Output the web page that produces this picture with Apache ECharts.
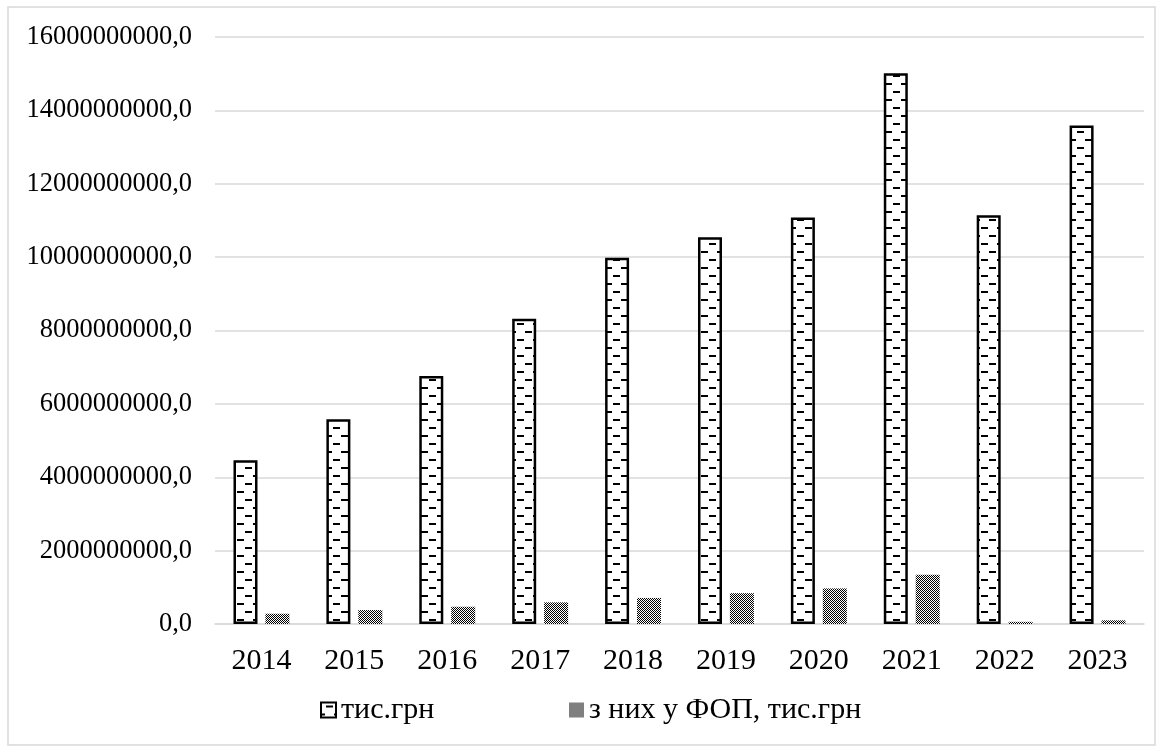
<!DOCTYPE html>
<html>
<head>
<meta charset="utf-8">
<script src="https://cdn.jsdelivr.net/npm/echarts@6/dist/echarts.min.js"></script>
<style>
html,body{margin:0;padding:0;background:#fff;}
#chart{width:1166px;height:756px;}
</style>
</head>
<body>
<div id="chart"></div>
<script>
const categories = ['2014','2015','2016','2017','2018','2019','2020','2021','2022','2023'];
const totalValues = [4460000000, 5580000000, 6760000000, 8320000000, 9980000000, 10540000000, 11080000000, 15010000000, 11140000000, 13590000000];
const fopValues = [280000000, 380000000, 470000000, 590000000, 710000000, 840000000, 970000000, 1340000000, 60000000, 100000000];
const seriesNames = ['тис.грн', 'з них у ФОП, тис.грн'];
const yTicks = {min: 0, max: 16000000000, interval: 2000000000};

function dashTile() {
  const c = document.createElement('canvas');
  c.width = 16; c.height = 16;
  const g = c.getContext('2d');
  g.fillStyle = '#fff'; g.fillRect(0, 0, 16, 16);
  g.fillStyle = '#000';
  g.fillRect(5, 3, 7, 2);
  g.fillRect(13, 11, 3, 2);
  g.fillRect(0, 11, 4, 2);
  return c;
}
function checkTile() {
  const c = document.createElement('canvas');
  c.width = 2; c.height = 2;
  const g = c.getContext('2d');
  g.fillStyle = '#fff'; g.fillRect(0, 0, 2, 2);
  g.fillStyle = '#000';
  g.fillRect(0, 0, 1, 1);
  g.fillRect(1, 1, 1, 1);
  return c;
}

const font = "'Liberation Serif', 'Times New Roman', serif";
const legendFontSize = 30;
const mctx = document.createElement('canvas').getContext('2d');
mctx.font = legendFontSize + "px 'Liberation Serif'";
const firstTextW = mctx.measureText(seriesNames[0]).width;
const legendLeft = 315, iconW = 15, textGap = 5, secondIconX = 563;
const legendGap = Math.max(10, secondIconX - (legendLeft + iconW + textGap + firstTextW));

const chart = echarts.init(document.getElementById('chart'), null, {renderer: 'canvas'});
chart.setOption({
  animation: false,
  backgroundColor: '#fff',
  textStyle: {fontFamily: font, color: '#000'},
  graphic: [{
    type: 'rect',
    shape: {x: 8, y: 7, width: 1147, height: 738},
    style: {fill: 'none', stroke: '#d9d9d9', lineWidth: 1.5},
    silent: true, z: -1
  }],
  grid: {left: 215, right: 22, top: 37, bottom: 132},
  legend: {
    left: legendLeft, top: 690,
    itemWidth: iconW, itemHeight: 15, itemGap: legendGap,
    icon: 'rect',
    textStyle: {fontFamily: font, fontSize: legendFontSize, color: '#000', fontWeight: 'normal'},
    data: seriesNames
  },
  xAxis: {
    type: 'category',
    data: categories,
    axisLine: {lineStyle: {color: '#d9d9d9', width: 1.5}},
    axisTick: {show: false},
    axisLabel: {fontFamily: font, fontSize: 30, color: '#000', margin: 22}
  },
  yAxis: {
    type: 'value',
    min: yTicks.min, max: yTicks.max, interval: yTicks.interval,
    axisLine: {show: false},
    axisTick: {show: false},
    splitLine: {lineStyle: {color: '#d9d9d9', width: 1.5}},
    axisLabel: {
      fontFamily: font, fontSize: 26.5, color: '#000', margin: 23,
      formatter: v => String(v) + ',0'
    }
  },
  series: [
    {
      name: seriesNames[0],
      type: 'bar',
      data: totalValues,
      barWidth: 24,
      barGap: '33%',
      itemStyle: {
        color: {image: dashTile(), repeat: 'repeat'},
        borderColor: '#000',
        borderWidth: 2.5
      }
    },
    {
      name: seriesNames[1],
      type: 'bar',
      data: fopValues,
      barWidth: 24,
      itemStyle: {
        color: {image: checkTile(), repeat: 'repeat'}
      }
    }
  ]
});
</script>
</body>
</html>
